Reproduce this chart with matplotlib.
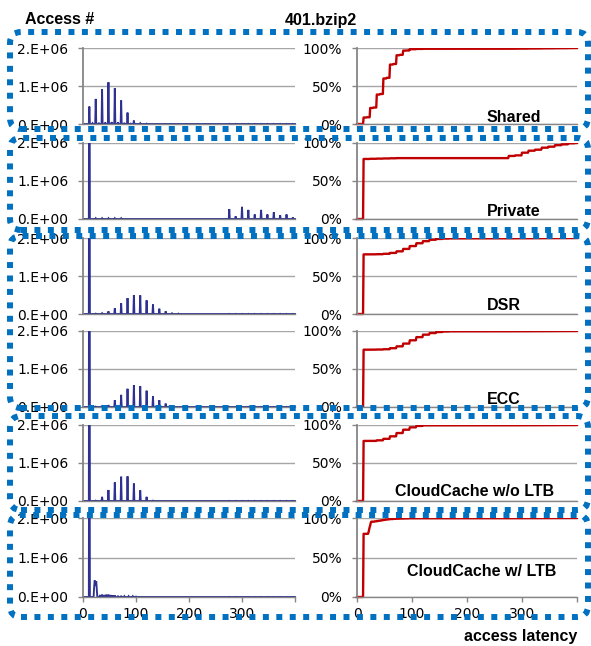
import numpy as np
import matplotlib
matplotlib.use("Agg")
import matplotlib.pyplot as plt
from matplotlib.patches import FancyBboxPatch
from matplotlib.transforms import Bbox, TransformedBbox, IdentityTransform

# ---------------------------------------------------------------------------
# Access-latency histograms (accesses per latency value) for 401.bzip2
# ---------------------------------------------------------------------------
schemes = ["Shared", "Private", "DSR", "ECC",
           "CloudCache w/o LTB", "CloudCache w/ LTB"]

tail_lat = [276, 288, 300, 312, 324, 336, 348, 360, 372, 384, 396]

shared_lat = [12, 18, 24, 30, 36, 42, 48, 54, 60, 66, 72, 78, 84, 90, 96,
              108, 120] + tail_lat
shared_cnt = [0.46e6, 0.02e6, 0.66e6, 0.03e6, 0.92e6, 0.04e6, 1.10e6, 0.05e6,
              0.94e6, 0.04e6, 0.62e6, 0.03e6, 0.30e6, 0.01e6, 0.09e6,
              0.02e6, 0.01e6] + [0.005e6] * 11

private_lat = [12, 24, 36, 48, 60, 72] + tail_lat
private_cnt = [7.19e6, 0.02e6, 0.02e6, 0.02e6, 0.02e6, 0.02e6,
               0.26e6, 0.07e6, 0.32e6, 0.24e6, 0.12e6, 0.24e6,
               0.12e6, 0.18e6, 0.10e6, 0.12e6, 0.04e6]

dsr_lat = [12, 24, 36, 48, 60, 72, 84, 96, 108, 120, 132, 144, 156, 168,
           180] + tail_lat
dsr_cnt = [10.4e6, 0.01e6, 0.02e6, 0.07e6, 0.15e6, 0.28e6, 0.42e6, 0.50e6,
           0.49e6, 0.36e6, 0.25e6, 0.14e6, 0.07e6, 0.03e6, 0.01e6] \
          + [0.005e6] * 11

ecc_lat = [12, 24, 36, 48, 60, 72, 84, 96, 108, 120, 132, 144, 156,
           168] + tail_lat
ecc_cnt = [9.95e6, 0.01e6, 0.02e6, 0.05e6, 0.18e6, 0.32e6, 0.48e6, 0.57e6,
           0.55e6, 0.43e6, 0.28e6, 0.18e6, 0.09e6, 0.03e6] + [0.005e6] * 11

cc_noltb_lat = [12, 24, 36, 48, 60, 72, 84, 96, 108, 120, 132] + tail_lat
cc_noltb_cnt = [11.7e6, 0.01e6, 0.11e6, 0.29e6, 0.49e6, 0.64e6, 0.65e6,
                0.46e6, 0.28e6, 0.11e6, 0.01e6] + [0.005e6] * 11

cc_ltb_lat = [12, 21, 22, 23, 24, 25, 26, 32, 36, 40, 44, 48, 52, 56, 60,
              66, 72, 78, 86, 94, 100] + tail_lat
cc_ltb_cnt = [9.84e6, 0.25e6, 0.42e6, 0.36e6, 0.28e6, 0.40e6, 0.18e6,
              0.05e6, 0.06e6, 0.05e6, 0.06e6, 0.06e6, 0.05e6, 0.04e6, 0.04e6,
              0.03e6, 0.03e6, 0.02e6, 0.02e6, 0.02e6, 0.01e6] + [0.003e6] * 11

series = [(shared_lat, shared_cnt), (private_lat, private_cnt),
          (dsr_lat, dsr_cnt), (ecc_lat, ecc_cnt),
          (cc_noltb_lat, cc_noltb_cnt), (cc_ltb_lat, cc_ltb_cnt)]

hist_yticks = [0, 1e6, 2e6]
hist_ylabels = ["0.E+00", "1.E+06", "2.E+06"]
cdf_yticks = [0, 0.5, 1.0]
cdf_ylabels = ["0%", "50%", "100%"]
x_ticks = [0, 100, 200, 300, 400]
x_labels = ["0", "100", "200", "300", ""]

# ---------------------------------------------------------------------------
W, H = 591, 646
fig = plt.figure(figsize=(W / 100, H / 100), dpi=100)

row_px = [(48, 124), (143, 219), (238, 314), (331, 407), (425, 501), (518, 597)]
left_x, left_w = 83, 212
right_x, right_w = 357, 220

GRID = "#A6A6A6"
SPINE = "#868686"
BLUE = "#2E3192"
RED = "#C00000"
TICK_FONT = "DejaVu Sans"
BOLD = dict(family="Liberation Sans", weight="bold", size=11.5)


def style_axes(ax, yticks, ylabels, bottom_row):
    for side in ("top", "right"):
        ax.spines[side].set_visible(False)
    ax.spines["left"].set_color(SPINE)
    ax.spines["left"].set_linewidth(1.3)
    ax.spines["bottom"].set_color(SPINE)
    ax.spines["bottom"].set_linewidth(1.0)
    ax.set_xlim(0, 400)
    ax.set_yticks(yticks)
    ax.set_yticklabels(ylabels, family=TICK_FONT, fontsize=10)
    ax.grid(axis="y", color=GRID, linewidth=1.0)
    ax.set_axisbelow(True)
    ax.tick_params(axis="y", length=3.5, width=1.0, color=SPINE, pad=7)
    if bottom_row:
        ax.set_xticks(x_ticks)
        ax.set_xticklabels(x_labels, family=TICK_FONT, fontsize=10)
        ax.tick_params(axis="x", length=3.5, width=1.0, color=SPINE, pad=4)
    else:
        ax.tick_params(axis="x", bottom=False, labelbottom=False)


def extend_clip(artist, ax):
    artist.set_clip_box(TransformedBbox(Bbox([[-0.01, -0.06], [1.01, 1.0]]),
                                        ax.transAxes))


latency = np.arange(0, 401)

for i, ((top, bot), (lat_vals, cnt_vals)) in enumerate(zip(row_px, series)):
    bottom_row = i == len(row_px) - 1
    hist = np.zeros(latency.size)
    hist[np.array(lat_vals)] = cnt_vals
    cdf = np.cumsum(hist) / hist.sum()

    axL = fig.add_axes([left_x / W, 1 - bot / H, left_w / W, (bot - top) / H])
    style_axes(axL, hist_yticks, hist_ylabels, bottom_row)
    axL.set_ylim(0, 2e6)
    (ln,) = axL.plot(latency, hist, color=BLUE, linewidth=1.35,
                     solid_joinstyle="miter")
    extend_clip(ln, axL)

    axR = fig.add_axes([right_x / W, 1 - bot / H, right_w / W, (bot - top) / H])
    style_axes(axR, cdf_yticks, cdf_ylabels, bottom_row)
    axR.set_ylim(0, 1.0)
    (ln,) = axR.plot(latency, cdf, color=RED, linewidth=1.7)
    extend_clip(ln, axR)

# Scheme names inside the CDF panels
scheme_pos = [(487, 117), (487, 211), (487, 305), (487, 399),
              (395, 492), (407, 571)]
for name, (px, py) in zip(schemes, scheme_pos):
    fig.text(px / W, 1 - py / H, name, ha="left", va="center", **BOLD)

fig.text(25 / W, 1 - 20 / H, "Access #", ha="left", va="center", **BOLD)
fig.text(321 / W, 1 - 20 / H, "401.bzip2", ha="center", va="center", **BOLD)
fig.text(577 / W, 1 - 636 / H, "access latency", ha="right", va="center",
         **BOLD)

# Dotted rounded frames grouping the schemes
frames = [(10, 32, 588, 129), (10, 138, 588, 230), (10, 236, 588, 408),
          (10, 416, 588, 510), (10, 515, 588, 617)]
for x0, y0, x1, y1 in frames:
    box = FancyBboxPatch((x0, H - y1), x1 - x0, y1 - y0,
                         boxstyle="round,pad=0,rounding_size=11",
                         transform=IdentityTransform(), fill=False,
                         edgecolor="#0070C0", linewidth=4.3,
                         linestyle=(0, (1.0, 1.25)), capstyle="butt",
                         zorder=5)
    fig.add_artist(box)

fig.savefig("out.png", dpi=100)
